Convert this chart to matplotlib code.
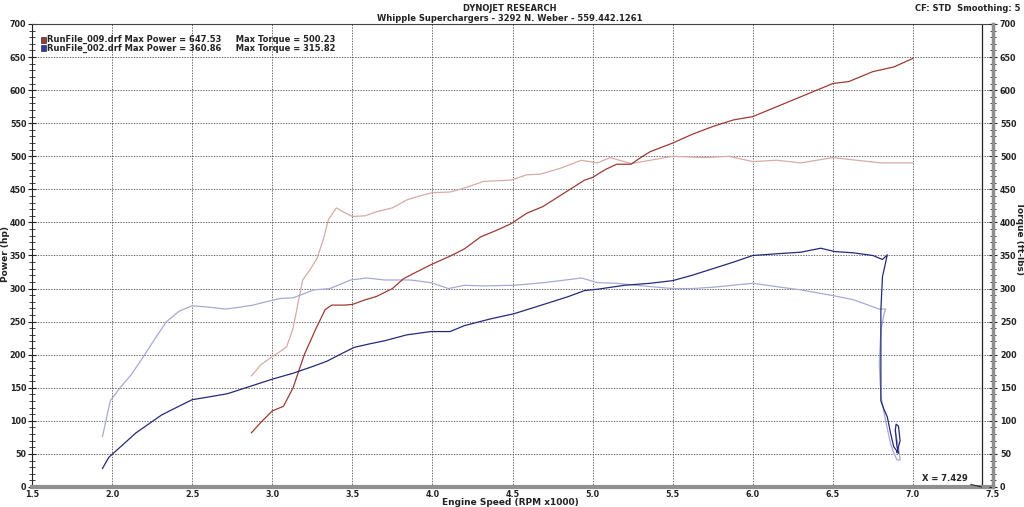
import numpy as np
import matplotlib.pyplot as plt
from matplotlib.ticker import MultipleLocator

# --- valeurs (RPM x1000, hp / ft-lbs) ---
rpm_pw_009 = [2.87, 2.93, 3.0, 3.07, 3.13, 3.2, 3.27, 3.33, 3.37, 3.45, 3.5, 3.58, 3.65, 3.75,
              3.82, 3.9, 3.99, 4.11, 4.2, 4.3, 4.4, 4.49, 4.59, 4.69, 4.82, 4.95, 5.0, 5.08,
              5.15, 5.24, 5.3, 5.36, 5.5, 5.62, 5.75, 5.88, 6.0, 6.12, 6.25, 6.38, 6.5, 6.6,
              6.75, 6.88, 7.0]
pw_009 = [82, 98, 115, 122, 150, 200, 238, 268, 275, 275, 276, 283, 288, 300,
          315, 325, 336, 349, 360, 378, 388, 398, 414, 424, 444, 464, 468, 480,
          488, 488, 498, 507, 520, 533, 545, 555, 560, 572, 585, 598, 610, 613,
          628, 635, 648]

rpm_tq_009 = [2.87, 2.93, 3.0, 3.05, 3.09, 3.13, 3.19, 3.24, 3.28, 3.32, 3.35, 3.4, 3.45,
              3.5, 3.58, 3.65, 3.75, 3.84, 3.92, 4.0, 4.11, 4.2, 4.32, 4.49, 4.59, 4.675,
              4.8, 4.93, 5.03, 5.11, 5.24, 5.36, 5.5, 5.7, 5.85, 6.0, 6.15, 6.3, 6.5, 6.65,
              6.8, 7.0]
tq_009 = [168, 185, 197, 205, 212, 240, 313, 330, 346, 375, 404, 422, 415,
          409, 410, 416, 422, 434, 440, 445, 446, 452, 462, 464, 472, 473,
          482, 494, 490, 498, 489, 494, 500, 498, 500, 492, 494, 490, 498, 494,
          490, 490]

rpm_pw_002 = [1.94, 1.98, 2.04, 2.15, 2.31, 2.4, 2.5, 2.6, 2.72, 2.86, 3.0, 3.13, 3.25, 3.34,
              3.42, 3.51, 3.6, 3.7, 3.84, 3.99, 4.05, 4.11, 4.2, 4.36, 4.51, 4.72, 4.85,
              4.95, 5.03, 5.2, 5.36, 5.5, 5.62, 5.75, 5.88, 6.0, 6.175, 6.3, 6.425, 6.51,
              6.63, 6.75, 6.81, 6.84, 6.81, 6.80, 6.80, 6.80, 6.80, 6.82, 6.84, 6.86, 6.88,
              6.91, 6.90, 6.89, 6.895, 6.91, 6.92, 6.90]
pw_002 = [28, 45, 58, 82, 109, 120, 132, 136, 141, 152, 163, 172, 182, 190,
          200, 211, 216, 221, 230, 235, 235, 235, 244, 254, 262, 278, 288,
          297, 299, 305, 308, 312, 320, 330, 340, 350, 353, 355, 361, 356,
          354, 350, 344, 351, 318, 268, 212, 157, 130, 117, 106, 82, 61,
          51, 62, 86, 95, 92, 70, 52]

rpm_tq_002 = [1.94, 1.97, 1.99, 2.05, 2.12, 2.19, 2.27, 2.34, 2.42, 2.5, 2.6, 2.71, 2.8,
              2.88, 2.96, 3.05, 3.13, 3.26, 3.36, 3.49, 3.59, 3.7, 3.86, 3.99, 4.1, 4.2,
              4.32, 4.51, 4.7, 4.93, 5.03, 5.15, 5.36, 5.5, 5.62, 5.75, 6.0, 6.175, 6.3,
              6.51, 6.63, 6.79, 6.83, 6.82, 6.80, 6.79, 6.80, 6.83, 6.86, 6.88, 6.90, 6.92,
              6.91, 6.89]
tq_002 = [76, 110, 131, 150, 170, 195, 225, 250, 266, 274, 272, 269, 272,
          275, 280, 285, 286, 298, 300, 313, 316, 313, 313, 309, 300, 305,
          304, 305, 309, 316, 309, 308, 303, 300, 300, 302, 308, 302, 298,
          289, 283, 269, 269, 262, 237, 187, 137, 100, 66, 52, 41, 41,
          60, 86]

legend_lignes = ["RunFile_009.drf Max Power = 647.53     Max Torque = 500.23",
                 "RunFile_002.drf Max Power = 360.86     Max Torque = 315.82"]
curseur_x = 7.429

# couleurs
ROUGE = '#9c3b35'
ROSE = '#d9aaa6'
BLEU = '#252a78'
LAVANDE = '#a7a9d6'
TXT = '#222222'

plt.rcParams['font.family'] = ['DejaVu Sans']
fig = plt.figure(figsize=(10.24, 5.07), dpi=100)
ax = fig.add_axes([32/1024, 20/507, 961/1024, 463/507])

ax.plot(rpm_tq_009, tq_009, color=ROSE, lw=0.9)
ax.plot(rpm_tq_002, tq_002, color=LAVANDE, lw=0.9)
ax.plot(rpm_pw_009, pw_009, color=ROUGE, lw=0.9)
ax.plot(rpm_pw_002, pw_002, color=BLEU, lw=0.9)

ax.set_xlim(1.5, 7.5)
ax.set_ylim(0, 700)
ax.xaxis.set_minor_locator(MultipleLocator(0.1))
ax.yaxis.set_major_locator(MultipleLocator(50))
ax.yaxis.set_minor_locator(MultipleLocator(10))
ax.set_xticks(np.arange(1.5, 7.51, 0.5))
ax.set_xticklabels([f"{v:.1f}" for v in np.arange(1.5, 7.51, 0.5)])
ax.grid(True, which='major', color='#4a4a4a', lw=0.6, ls=(0, (1.6, 1.6)))

ax.tick_params(which='both', direction='inout', labelsize=5.8, colors=TXT)
ax.tick_params(axis='y', which='major', length=6, pad=1)
ax.tick_params(axis='y', which='minor', length=5)
ax.tick_params(axis='x', which='major', length=2, pad=1)
ax.tick_params(axis='x', which='minor', length=2)
for lab in ax.get_xticklabels() + ax.get_yticklabels():
    lab.set_fontweight('bold')

ax.spines['top'].set_color('#444444')
ax.spines['top'].set_linewidth(0.8)
ax.spines['right'].set_visible(False)
ax.spines['left'].set_color(TXT)
ax.spines['left'].set_linewidth(0.8)
ax.spines['bottom'].set_color('#8f8f8f')
ax.spines['bottom'].set_linewidth(3)

# axe droit (couple)
ax2 = ax.twinx()
ax2.set_ylim(0, 700)
ax2.yaxis.set_major_locator(MultipleLocator(50))
ax2.yaxis.set_minor_locator(MultipleLocator(10))
ax2.tick_params(which='both', direction='inout', labelsize=5.8, colors=TXT, pad=2)
ax2.tick_params(which='major', length=6)
ax2.tick_params(which='minor', length=5)
for lab in ax2.get_yticklabels():
    lab.set_fontweight('bold')
for s in ax2.spines.values():
    s.set_visible(False)
ax2.spines['right'].set_visible(True)
ax2.spines['right'].set_linewidth(2.5)
ax2.spines['right'].set_color('#8f8f8f')

# curseur
ax.axvline(curseur_x, color=TXT, lw=0.9)
ax.annotate(f"X = {curseur_x:.3f}", xy=(curseur_x, 0), xytext=(7.2, 13.5),
            fontsize=6, fontweight='bold', color=TXT, ha='center', va='center',
            arrowprops=dict(arrowstyle='-', color=TXT, lw=0.7,
                            shrinkA=0, shrinkB=0))

# légende
for i, (txt, c) in enumerate(zip(legend_lignes, [ROUGE, '#2f3aa8'])):
    yy = 0.966 - i * 0.018
    ax.add_patch(plt.Rectangle((0.0095, yy - 0.007), 0.005, 0.014, transform=ax.transAxes,
                               facecolor=c, edgecolor='#333333', lw=0.5, clip_on=False))
    ax.text(0.016, yy, txt, transform=ax.transAxes, fontsize=6, fontweight='bold',
            color=TXT, va='center', ha='left')

# titres et libellés
fig.text(0.498, 0.992, "DYNOJET RESEARCH", fontsize=6, fontweight='bold',
         ha='center', va='top', color=TXT)
fig.text(0.498, 0.972, "Whipple Superchargers - 3292 N. Weber - 559.442.1261",
         fontsize=6, fontweight='bold', ha='center', va='top', color=TXT)
fig.text(0.997, 0.992, "CF: STD  Smoothing: 5", fontsize=6, fontweight='bold',
         ha='right', va='top', color=TXT)
fig.text(0.0055, 0.5, "Power (hp)", rotation=90, fontsize=6.5, fontweight='bold',
         ha='center', va='center', color=TXT)
fig.text(0.9955, 0.53, "Torque (ft-lbs)", rotation=-90, fontsize=6.5, fontweight='bold',
         ha='center', va='center', color=TXT)
fig.text(0.498, 0.0, "Engine Speed (RPM x1000)", fontsize=6.5, fontweight='bold',
         ha='center', va='bottom', color=TXT)

fig.savefig('out.png', dpi=100)
